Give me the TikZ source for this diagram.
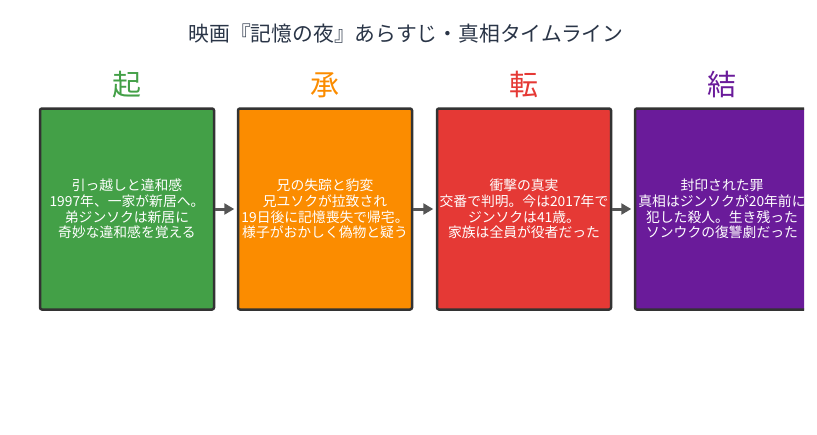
\documentclass[tikz,border=0pt]{standalone}
\usepackage{fontspec}
\setmainfont{Noto Sans CJK JP}
\usepackage{xcolor}
\usetikzlibrary{arrows.meta, positioning}
\definecolor{kigreen}{HTML}{43A047}
\definecolor{shoorange}{HTML}{FB8C00}
\definecolor{tenred}{HTML}{E53935}
\definecolor{ketsupurple}{HTML}{6A1B9A}
\definecolor{titleink}{HTML}{2A3547}
\definecolor{edgegray}{HTML}{333333}
\definecolor{arrowgray}{HTML}{555555}

\tikzset{
  actbox/.style={draw=edgegray, line width=2.5pt, rounded corners=2pt,
    minimum width=174pt, minimum height=201pt, inner sep=0pt,
    text=white, align=center, font=\fontsize{13.8}{15.6}\selectfont},
  acthead/.style={font=\fontsize{29}{32}\selectfont},
  flow/.style={-{Triangle[length=10pt, width=11pt]}, arrowgray, line width=3pt, shorten >=2.5pt}
}

\begin{document}
\begin{tikzpicture}[x=1pt, y=-1pt]
\useasboundingbox (0,0) rectangle (817,434);
\clip (0,0) rectangle (804,434);
\node[font=\fontsize{20.8}{24}\selectfont, text=titleink] (title) at (406,34) {映画『記憶の夜』あらすじ・真相タイムライン};
% four acts
\node[actbox, fill=kigreen] (ki) at (127,209) {引っ越しと違和感\\1997年、一家が新居へ。\\弟ジンソクは新居に\\奇妙な違和感を覚える};
\node[actbox, fill=shoorange] (sho) at (325,209) {兄の失踪と豹変\\兄ユソクが拉致され\\19日後に記憶喪失で帰宅。\\様子がおかしく偽物と疑う};
\node[actbox, fill=tenred] (ten) at (524,209) {衝撃の真実\\交番で判明。今は2017年で\\ジンソクは41歳。\\家族は全員が役者だった};
\node[actbox, fill=ketsupurple] (ketsu) at (722,209) {封印された罪\\真相はジンソクが20年前に\\犯した殺人。生き残った\\ソンウクの復讐劇だった};
% headings
\node[acthead, text=kigreen, above=6pt of ki] (kihead) {起};
\node[acthead, text=shoorange, above=6pt of sho] (shohead) {承};
\node[acthead, text=tenred, above=6pt of ten] (tenhead) {転};
\node[acthead, text=ketsupurple, above=6pt of ketsu] (ketsuhead) {結};
% arrows
\draw[flow] (ki) -- (sho);
\draw[flow] (sho) -- (ten);
\draw[flow] (ten) -- (ketsu);
\end{tikzpicture}
\end{document}
